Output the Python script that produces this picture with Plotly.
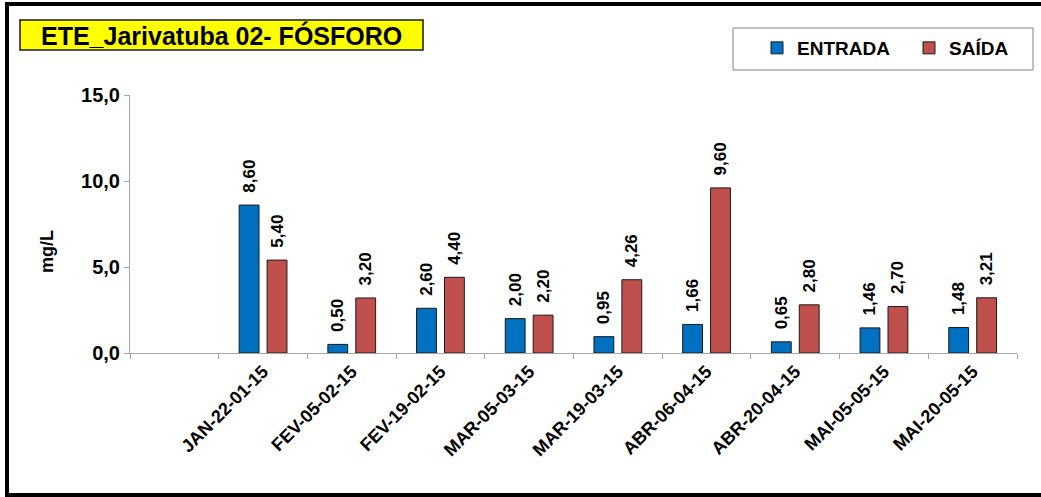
import plotly.graph_objects as go

categories = [" ", "JAN-22-01-15", "FEV-05-02-15", "FEV-19-02-15", "MAR-05-03-15",
              "MAR-19-03-15", "ABR-06-04-15", "ABR-20-04-15", "MAI-05-05-15", "MAI-20-05-15"]
entrada = [None, 8.60, 0.50, 2.60, 2.00, 0.95, 1.66, 0.65, 1.46, 1.48]
saida = [None, 5.40, 3.20, 4.40, 2.20, 4.26, 9.60, 2.80, 2.70, 3.21]
y_ticks = [0, 5, 10, 15]

W, H = 1041, 497
ML, MR, MT, MB = 130, 24, 95, 144
PW, PH = W - ML - MR, H - MT - MB


def px(x):
    return (x - ML) / PW


def py(y):
    return (H - MB - y) / PH


def fmt(vals):
    return ["" if v is None else "\u00a0\u00a0" + f"{v:.2f}".replace(".", ",") for v in vals]


FONT = "Liberation Sans, Arial, sans-serif"
lab_font = dict(family=FONT, size=17, color="black", weight="bold")

fig = go.Figure()
fig.add_trace(go.Bar(
    x=categories, y=entrada, name="ENTRADA",
    marker=dict(color="#0070C0", line=dict(color="#1a1a1a", width=1)),
    text=fmt(entrada), textposition="outside", textangle=-90,
    textfont=lab_font, constraintext="none", cliponaxis=False,
))
fig.add_trace(go.Bar(
    x=categories, y=saida, name="SAÍDA",
    marker=dict(color="#C0504D", line=dict(color="#1a1a1a", width=1)),
    text=fmt(saida), textposition="outside", textangle=-90,
    textfont=lab_font, constraintext="none", cliponaxis=False,
))

frame = dict(color="black", width=4)
fig.update_layout(
    width=W, height=H,
    margin=dict(l=ML, r=MR, t=MT, b=MB, autoexpand=False),
    paper_bgcolor="white", plot_bgcolor="white",
    separators=",.",
    barmode="group", bargap=0.37, bargroupgap=0.29,
    font=dict(family=FONT, color="black"),
    showlegend=True,
    legend=dict(
        orientation="h", x=px(757), y=py(48), xanchor="left", yanchor="middle",
        bgcolor="rgba(0,0,0,0)", borderwidth=0,
        font=dict(family=FONT, size=19, color="black", weight="bold"),
        entrywidth=107, entrywidthmode="pixels", itemwidth=30,
    ),
    xaxis=dict(
        type="category", categoryorder="array", categoryarray=categories,
        showline=True, linecolor="#a6a6a6", linewidth=1,
        ticks="outside", tickson="boundaries", ticklen=5, tickcolor="#a6a6a6",
        tickangle=-45, showgrid=False,
        tickfont=dict(family=FONT, size=18, color="black", weight="bold"),
    ),
    yaxis=dict(
        range=[0, 15], tickvals=y_ticks, tickformat=".1f",
        showline=True, linecolor="#a6a6a6", linewidth=1,
        ticks="outside", ticklen=5, tickcolor="#a6a6a6",
        showgrid=False, zeroline=False,
        tickfont=dict(family=FONT, size=20, color="black", weight="bold"),
    ),
    shapes=[
        dict(type="line", xref="paper", yref="paper", x0=px(7), x1=px(7), y0=py(2), y1=py(497), line=frame),
        dict(type="line", xref="paper", yref="paper", x0=px(5), x1=px(1041), y0=py(4), y1=py(4), line=frame),
        dict(type="line", xref="paper", yref="paper", x0=px(5), x1=px(1041), y0=py(495), y1=py(495), line=frame),
        dict(type="rect", xref="paper", yref="paper", x0=px(20), x1=px(423), y0=py(20), y1=py(50),
             line=dict(color="#1a1a1a", width=1.5), fillcolor="#FFFF00", layer="above"),
        dict(type="rect", xref="paper", yref="paper", x0=px(733), x1=px(1033), y0=py(28), y1=py(70),
             line=dict(color="#808080", width=1), fillcolor="rgba(0,0,0,0)", layer="above"),
    ],
    annotations=[
        dict(text="ETE_Jarivatuba 02- FÓSFORO", xref="paper", yref="paper",
             x=px(221.5), y=py(35), xanchor="center", yanchor="middle", showarrow=False,
             font=dict(family=FONT, size=25, color="black", weight="bold")),
        dict(text="mg/L", xref="paper", yref="paper", x=px(47), y=py(252),
             xanchor="center", yanchor="middle", textangle=-90, showarrow=False,
             font=dict(family=FONT, size=18, color="black", weight="bold")),
    ],
)

fig.write_html("out.html", config={"displayModeBar": False},
               post_script="document.body.style.margin='0';document.body.style.overflow='hidden';")
